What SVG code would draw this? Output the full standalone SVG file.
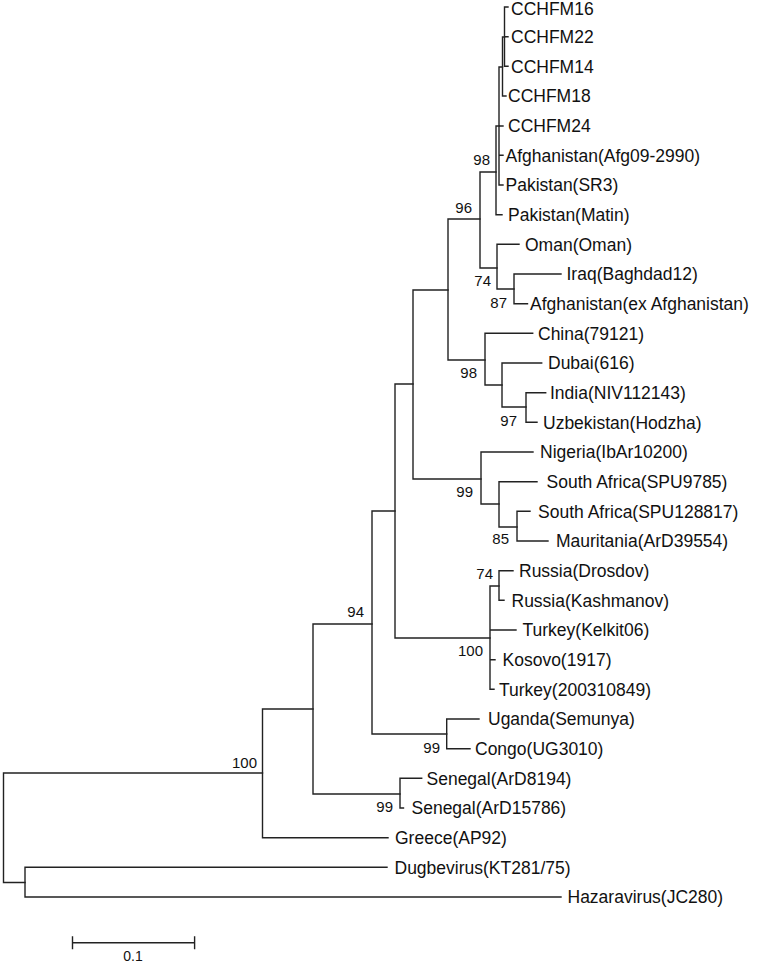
<svg xmlns="http://www.w3.org/2000/svg" width="770" height="968" viewBox="0 0 770 968">
<style>
.leaf{font-family:"Liberation Sans",Arial,sans-serif;font-size:17.5px;fill:#111111}
.bs{font-family:"Liberation Sans",Arial,sans-serif;font-size:15px;fill:#111111;text-anchor:end}
.br{fill:none;stroke:#222222;stroke-width:1.4;stroke-linecap:square}
</style>
<rect width="770" height="968" fill="#ffffff"/>
<g id="connectors" class="br">
<path d="M3.5 773V882.5M3.5 773H262.5M3.5 882.5H25"/>
<path d="M25 867.3V897M25 867.3H387M25 897H561"/>
<path d="M262.5 709V837.7M262.5 837.7H388M262.5 709H313"/>
<path d="M313 624V794M313 794H400M313 624H372"/>
<path d="M400 778.3V808M400 778.3H421.7M400 808H403.5"/>
<path d="M372 511V734M372 734H446.7M372 511H395"/>
<path d="M446.7 719V748.7M446.7 719H479M446.7 748.7H470"/>
<path d="M395 384V638M395 638H490M395 384H413"/>
<path d="M490 586V689.3M490 586H499M490 630H516M490 659.7H495M490 689.3H494"/>
<path d="M499 570.7V600.3M499 570.7H513M499 600.3H504"/>
<path d="M413 290V479M413 479H481M413 290H448"/>
<path d="M481 452V504M481 452H533M481 504H499"/>
<path d="M499 481.7V527M499 481.7H537M499 527H517"/>
<path d="M517 511.3V541M517 511.3H530M517 541H548"/>
<path d="M448 219V360M448 360H485M448 219H480"/>
<path d="M485 333.3V385M485 333.3H532.7M485 385H502"/>
<path d="M502 363V407M502 363H541.7M502 407H526"/>
<path d="M526 392.7V422.3M526 392.7H545.7M526 422.3H537"/>
<path d="M480 172V268M480 268H497M480 172H496"/>
<path d="M497 244.3V289M497 244.3H519M497 289H514"/>
<path d="M514 274V303.7M514 274H561M514 303.7H527.5"/>
<path d="M496 126V214.7M496 214.7H502M496 126H499"/>
<path d="M499 67V185M499 126H503M499 155.3H503M499 185H503M499 67H502.5"/>
<path d="M502.5 37V96M502.5 96H506M502.5 37H504.5"/>
<path d="M504.5 7V66.3M504.5 7H508M504.5 36.7H508M504.5 66.3H508"/>
</g>
<g id="n-CCHFM16"><text class="leaf" x="511" y="14.5">CCHFM16</text></g>
<g id="n-CCHFM22"><text class="leaf" x="511" y="43">CCHFM22</text></g>
<g id="n-CCHFM14"><text class="leaf" x="511" y="72.6">CCHFM14</text></g>
<g id="n-CCHFM18"><text class="leaf" x="508" y="102.3">CCHFM18</text></g>
<g id="n-CCHFM24"><text class="leaf" x="508" y="132">CCHFM24</text></g>
<g id="n-AfgAfg09"><text class="leaf" x="505.5" y="161.6">Afghanistan(Afg09-2990)</text></g>
<g id="n-PakSR3"><text class="leaf" x="505.5" y="191.3">Pakistan(SR3)</text></g>
<g id="n-PakMatin"><text class="leaf" x="508" y="221">Pakistan(Matin)</text></g>
<g id="n-Oman"><text class="leaf" x="525" y="250.6">Oman(Oman)</text></g>
<g id="n-Iraq"><text class="leaf" x="566.5" y="280.3">Iraq(Baghdad12)</text></g>
<g id="n-AfgEx"><text class="leaf" x="530" y="310">Afghanistan(ex Afghanistan)</text></g>
<g id="n-China"><text class="leaf" x="538" y="339.6">China(79121)</text></g>
<g id="n-Dubai"><text class="leaf" x="548" y="369.3">Dubai(616)</text></g>
<g id="n-India"><text class="leaf" x="550" y="399">India(NIV112143)</text></g>
<g id="n-Uzbekistan"><text class="leaf" x="543" y="428.6">Uzbekistan(Hodzha)</text></g>
<g id="n-Nigeria"><text class="leaf" x="540" y="458.3">Nigeria(IbAr10200)</text></g>
<g id="n-SA9785"><text class="leaf" x="546.5" y="488">South Africa(SPU9785)</text></g>
<g id="n-SA128817"><text class="leaf" x="538" y="517.6">South Africa(SPU128817)</text></g>
<g id="n-Mauritania"><text class="leaf" x="556" y="547.3">Mauritania(ArD39554)</text></g>
<g id="n-RussiaDrosdov"><text class="leaf" x="519" y="577">Russia(Drosdov)</text></g>
<g id="n-RussiaKashmanov"><text class="leaf" x="511.5" y="606.6">Russia(Kashmanov)</text></g>
<g id="n-TurkeyKelkit"><text class="leaf" x="522.5" y="636.3">Turkey(Kelkit06)</text></g>
<g id="n-Kosovo"><text class="leaf" x="502.5" y="666">Kosovo(1917)</text></g>
<g id="n-Turkey2003"><text class="leaf" x="499" y="695.6">Turkey(200310849)</text></g>
<g id="n-Uganda"><text class="leaf" x="488" y="725.3">Uganda(Semunya)</text></g>
<g id="n-Congo"><text class="leaf" x="475" y="755">Congo(UG3010)</text></g>
<g id="n-Senegal8194"><text class="leaf" x="426.5" y="784.6">Senegal(ArD8194)</text></g>
<g id="n-Senegal15786"><text class="leaf" x="411.5" y="814.3">Senegal(ArD15786)</text></g>
<g id="n-Greece"><text class="leaf" x="395" y="844">Greece(AP92)</text></g>
<g id="n-Dugbevirus"><text class="leaf" x="394.5" y="873.6">Dugbevirus(KT281/75)</text></g>
<g id="n-Hazaravirus"><text class="leaf" x="567.5" y="903.3">Hazaravirus(JC280)</text></g>
<g id="bootstrap">
<g id="b-pak"><text class="bs" x="490" y="165.4">98</text></g>
<g id="b-96"><text class="bs" x="472" y="212.6">96</text></g>
<g id="b-oman"><text class="bs" x="491" y="286.4">74</text></g>
<g id="b-iraq"><text class="bs" x="507" y="308.4">87</text></g>
<g id="b-china"><text class="bs" x="477" y="378.4">98</text></g>
<g id="b-india"><text class="bs" x="517" y="426.4">97</text></g>
<g id="b-africa"><text class="bs" x="473" y="497.4">99</text></g>
<g id="b-maur"><text class="bs" x="509" y="544.4">85</text></g>
<g id="b-russia"><text class="bs" x="493" y="579.4">74</text></g>
<g id="b-94"><text class="bs" x="364" y="617.4">94</text></g>
<g id="b-europe"><text class="bs" x="483" y="656.4">100</text></g>
<g id="b-uganda"><text class="bs" x="440" y="753.4">99</text></g>
<g id="b-root"><text class="bs" x="257" y="768.4">100</text></g>
<g id="b-senegal"><text class="bs" x="393" y="812.4">99</text></g>
</g>
<g id="scalebar">
<path class="br" d="M72.5 942.7H194.6M72.5 937V948.5M194.6 937V948.5"/>
<text x="133" y="961" style="font-family:'Liberation Sans',Arial,sans-serif;font-size:14px;fill:#111111;text-anchor:middle">0.1</text>
</g>
</svg>
